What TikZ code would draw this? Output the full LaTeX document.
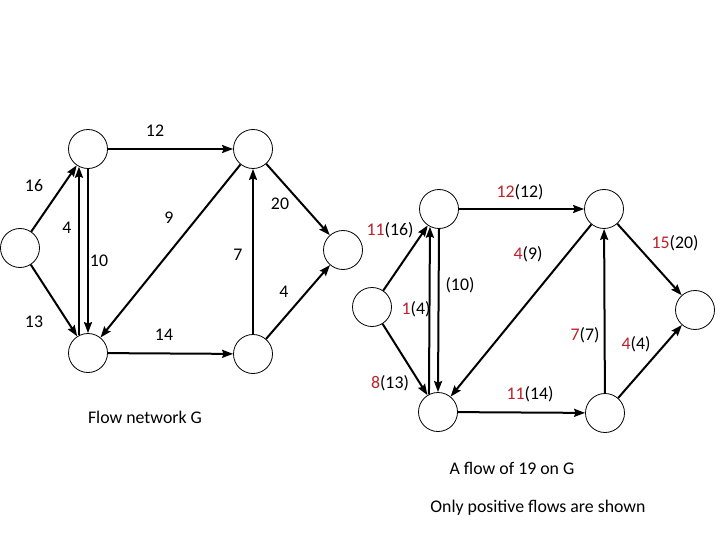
\documentclass[tikz,border=0pt]{standalone}
\usepackage{fontspec}
\setmainfont{Carlito}
\usetikzlibrary{arrows.meta}
\definecolor{flowred}{RGB}{192,32,40}
\newcommand{\fl}[2]{\textcolor{flowred}{#1}(#2)}
\begin{document}
\begin{tikzpicture}[x=1pt,y=-1pt,font=\fontsize{17.8}{21}\selectfont,
  vtx/.style={circle,draw,line width=0.8pt,minimum size=39pt,inner sep=0pt},
  arc/.style={-{Stealth[length=11pt,width=8pt,inset=1.5pt]},line width=2pt}]
  \useasboundingbox (0,0) rectangle (720,540);

  % flow network G
  \node[vtx] (s) at (20,248) {};
  \node[vtx] (v1) at (88,149) {};
  \node[vtx] (v2) at (88,353) {};
  \node[vtx] (v3) at (253,149) {};
  \node[vtx] (v4) at (253,354) {};
  \node[vtx] (t) at (343,250) {};
  \draw[arc] (s) -- (v1);
  \draw[arc] (s) -- (v2);
  \draw[arc] (v1) -- (v3);
  \draw[arc] (v2) -- (v4);
  \draw[arc] (v2.117) -- (v1.243);
  \draw[arc] (v1.south) -- (v2.north);
  \draw[arc] (v3) -- (v2);
  \draw[arc] (v4) -- (v3);
  \draw[arc] (v3) -- (t);
  \draw[arc] (v4) -- (t);

  \node (l12) at (155,131) {12};
  \node (l16) at (34,186) {16};
  \node (l4a) at (67,228) {4};
  \node (l9) at (169,218) {9};
  \node (l10) at (99,261) {10};
  \node (l20) at (280,204) {20};
  \node (l7) at (238,255) {7};
  \node (l4b) at (284,292) {4};
  \node (l13) at (34,322) {13};
  \node (l14) at (164,335) {14};
  \node (capG) at (145,417) {Flow network G};

  % a flow on G
  \node[vtx] (fs) at (372,307) {};
  \node[vtx] (f1) at (439,209) {};
  \node[vtx] (f2) at (438,412) {};
  \node[vtx] (f3) at (604,209) {};
  \node[vtx] (f4) at (605,413) {};
  \node[vtx] (ft) at (695,310) {};
  \draw[arc] (fs) -- (f1);
  \draw[arc] (fs) -- (f2);
  \draw[arc] (f1) -- (f3);
  \draw[arc] (f2) -- (f4);
  \draw[arc] (f2.117) -- (f1.243);
  \draw[arc] (f1.south) -- (f2.north);
  \draw[arc] (f3) -- (f2);
  \draw[arc] (f4) -- (f3);
  \draw[arc] (f3) -- (ft);
  \draw[arc] (f4) -- (ft);

  \node (m12) at (520,192) {\fl{12}{12}};
  \node (m11) at (390,230) {\fl{11}{16}};
  \node (m4a) at (528,254) {\fl{4}{9}};
  \node (m15) at (675,243) {\fl{15}{20}};
  \node (m10) at (460,285) {(10)};
  \node (m1) at (416,309) {\fl{1}{4}};
  \node (m7) at (585,335) {\fl{7}{7}};
  \node (m4b) at (636,344) {\fl{4}{4}};
  \node (m8) at (390,383) {\fl{8}{13}};
  \node (m14) at (530,394) {\fl{11}{14}};
  \node (capF) at (512,468) {A flow of 19 on G};
  \node (note) at (538,508) {Only positive flows are shown};
\end{tikzpicture}
\end{document}
